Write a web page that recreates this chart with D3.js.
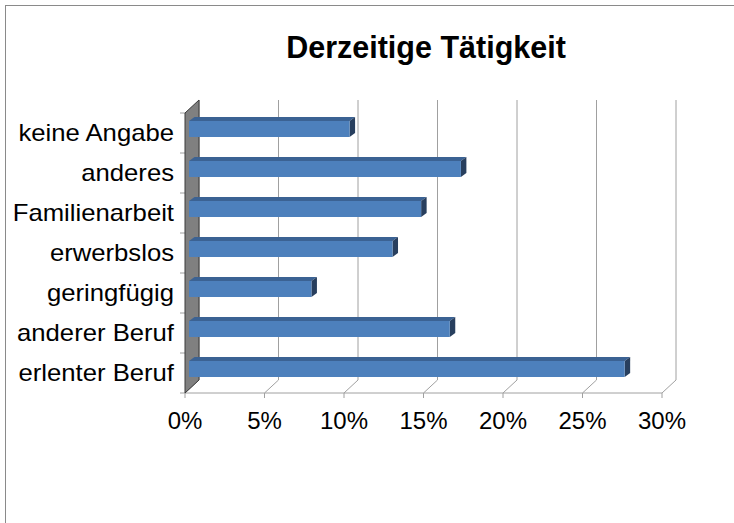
<!DOCTYPE html>
<html lang="de">
<head>
  <meta charset="UTF-8" />
  <title>Derzeitige Tätigkeit</title>
  <script src="https://d3js.org/d3.v7.min.js"></script>
  <style>
    html, body { margin: 0; padding: 0; background: #fff; }
    svg { display: block; font-family: "Liberation Sans", Arial, sans-serif; }
  </style>
</head>
<body>
  <svg id="chart" width="734" height="523"></svg>
  <script>
    // ---------------------------------------------------------
    // Data (percent), top to bottom as shown
    // ---------------------------------------------------------
    const categories = ["keine Angabe", "anderes", "Familienarbeit", "erwerbslos",
                        "geringfügig", "anderer Beruf", "erlenter Beruf"];
    const values = [10.1, 17.1, 14.6, 12.8, 7.7, 16.4, 27.4];
    const ticks = [0, 5, 10, 15, 20, 25, 30];
    const title = "Derzeitige Tätigkeit";

    const svg = d3.select("#chart");

    // chart border (right and bottom edges run off the picture)
    svg.append("rect")
      .attr("x", 5.5).attr("y", 5.5)
      .attr("width", 800).attr("height", 600)
      .attr("fill", "none").attr("stroke", "#8a8a8a");

    // title
    svg.append("text")
      .attr("x", 426).attr("y", 58)
      .attr("text-anchor", "middle")
      .attr("font-size", "30.5px").attr("font-weight", "bold")
      .attr("fill", "#000")
      .text(title);

    // ---------------------------------------------------------
    // Scales & pseudo-3D depth
    // ---------------------------------------------------------
    const x = d3.scaleLinear().domain([0, 30]).range([185, 662]);
    const y = d3.scaleBand().domain(categories).range([113, 393]);
    const depth = { dx: 14, dy: -13 };     // floor / wall depth
    const barFront = { dx: 4, dy: -4 };    // bar front face position in depth
    const barDepth = { dx: 5.5, dy: -4 };  // visible bar thickness
    const barH = 16;
    const yBottom = y.range()[1];
    const yTop = y.range()[0];

    const grid = svg.append("g").attr("stroke", "#a0a0a0").attr("fill", "none");

    // back wall gridlines
    grid.selectAll(".back").data(ticks).join("line")
      .attr("x1", d => x(d) + depth.dx).attr("x2", d => x(d) + depth.dx)
      .attr("y1", yTop + depth.dy).attr("y2", yBottom + depth.dy);

    // floor diagonals
    grid.selectAll(".floor").data(ticks).join("line")
      .attr("x1", d => x(d)).attr("y1", yBottom)
      .attr("x2", d => x(d) + depth.dx).attr("y2", yBottom + depth.dy);

    // front baseline & ticks
    grid.append("line")
      .attr("x1", x(0)).attr("x2", x(30))
      .attr("y1", yBottom).attr("y2", yBottom);
    grid.selectAll(".tick").data(ticks).join("line")
      .attr("x1", d => x(d)).attr("x2", d => x(d))
      .attr("y1", yBottom).attr("y2", yBottom + 5);

    // left side wall
    svg.append("polygon")
      .attr("points", [
        [x(0), yTop], [x(0) + depth.dx, yTop + depth.dy],
        [x(0) + depth.dx, yBottom + depth.dy], [x(0), yBottom]
      ].map(p => p.join(",")).join(" "))
      .attr("fill", "#808080").attr("stroke", "#3a3a3a").attr("stroke-width", 1);

    // category ticks on the left
    const edges = categories.map(c => y(c)).concat([yBottom]);
    grid.selectAll(".ctick").data(edges).join("line")
      .attr("x1", x(0) - 5).attr("x2", x(0))
      .attr("y1", d => d).attr("y2", d => d);

    // ---------------------------------------------------------
    // Bars
    // ---------------------------------------------------------
    const bars = svg.append("g");
    categories.forEach((c, i) => {
      const x0 = x(0) + barFront.dx;
      const x1 = x(values[i]) + barFront.dx;
      const yc = y(c) + y.bandwidth() / 2 + barFront.dy;
      const y0 = yc - barH / 2, y1 = yc + barH / 2;

      // top face
      bars.append("polygon")
        .attr("points", [[x0, y0], [x0 + barDepth.dx, y0 + barDepth.dy],
          [x1 + barDepth.dx, y0 + barDepth.dy], [x1, y0]].map(p => p.join(",")).join(" "))
        .attr("fill", "#3b6293");
      // end face
      bars.append("polygon")
        .attr("points", [[x1, y0], [x1 + barDepth.dx, y0 + barDepth.dy],
          [x1 + barDepth.dx, y1 + barDepth.dy], [x1, y1]].map(p => p.join(",")).join(" "))
        .attr("fill", "#283f5e");
      // front face
      bars.append("rect")
        .attr("x", x0).attr("y", y0)
        .attr("width", x1 - x0).attr("height", barH)
        .attr("fill", "#4d80bc");
    });

    // ---------------------------------------------------------
    // Labels (slightly widened like the original rendering)
    // ---------------------------------------------------------
    svg.append("g")
      .attr("transform", "translate(174,0) scale(1.07,1)")
      .selectAll("text").data(categories).join("text")
      .attr("x", 0)
      .attr("y", d => y(d) + y.bandwidth() / 2)
      .attr("dy", "0.35em")
      .attr("text-anchor", "end")
      .attr("font-size", "24px")
      .attr("fill", "#000")
      .text(d => d);

    svg.append("g").selectAll("text").data(ticks).join("text")
      .attr("x", d => x(d))
      .attr("y", 429)
      .attr("text-anchor", "middle")
      .attr("font-size", "24px")
      .attr("fill", "#000")
      .text(d => d + "%");
  </script>
</body>
</html>
